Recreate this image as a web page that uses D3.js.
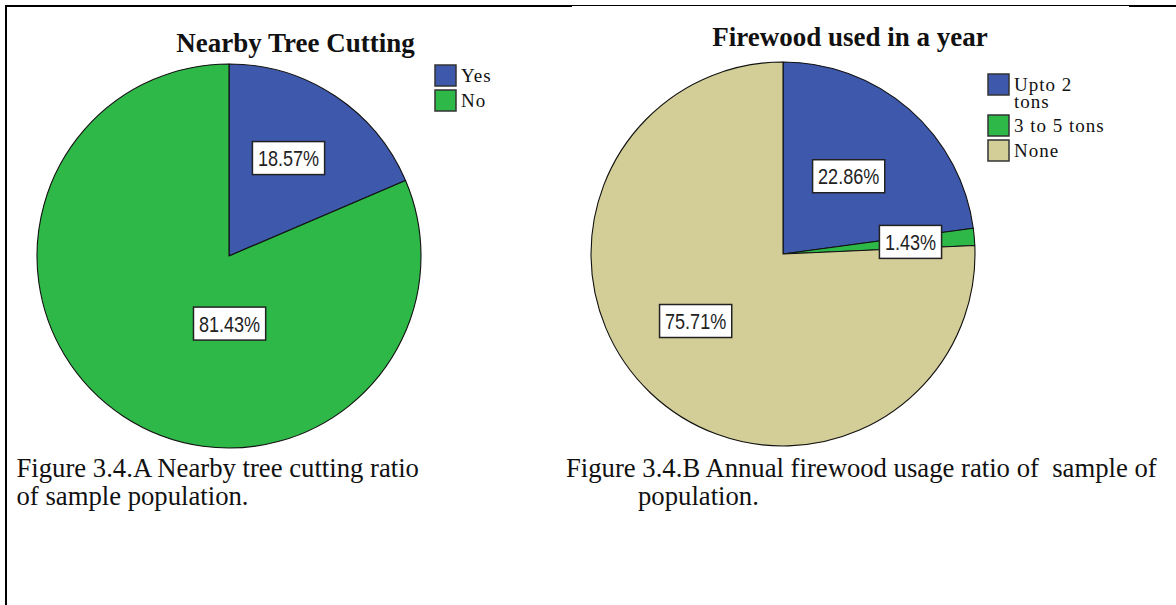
<!DOCTYPE html>
<html><head><meta charset="utf-8">
<script src="https://cdn.jsdelivr.net/npm/d3@7"></script>
<style>html,body{margin:0;padding:0;background:#fff;} svg{display:block;}</style>
</head><body>
<svg id="chart" width="1176" height="605"></svg>
<script>
// ---------- data ----------
const titleA = "Nearby Tree Cutting";
const categoriesA = ["Yes", "No"];
const legendLinesA = [["Yes"], ["No"]];
const valuesA = [18.57, 81.43];

const titleB = "Firewood used in a year";
const categoriesB = ["Upto 2 tons", "3 to 5 tons", "None"];
const legendLinesB = [["Upto 2", "tons"], ["3 to 5 tons"], ["None"]];
const valuesB = [22.86, 1.43, 75.71];

const captionA = ["Figure 3.4.A Nearby tree cutting ratio", "of sample population."];
const captionB = ["Figure 3.4.B Annual firewood usage ratio of  sample of", "population."];

// ---------- styles / layout ----------
const palette = ["#3E58AC", "#2EB848", "#D3CE97"];
const serif = "'Liberation Serif','Times New Roman',Times,serif";
const narrow = "'Liberation Sans Narrow','Arial Narrow','Liberation Sans',Arial,sans-serif";

const panels = [
  { title: titleA, cats: categoriesA, vals: valuesA, legend: legendLinesA,
    cx: 229, cy: 256, r: 192, titleX: 295.5, titleY: 52,
    legendX: 435, legendTops: [65, 90],
    labelPos: [[0.31, -0.51], [0.003, 0.352]] },
  { title: titleB, cats: categoriesB, vals: valuesB, legend: legendLinesB,
    cx: 783, cy: 254, r: 192, titleX: 850, titleY: 46,
    legendX: 988, legendTops: [74, 115, 140],
    labelPos: [[0.342, -0.405], [0.664, -0.063], [-0.455, 0.349]] }
];

const svg = d3.select("#chart");

// frame
const frame = svg.append("g").attr("stroke", "#000");
frame.append("line").attr("x1", 5).attr("x2", 572).attr("y1", 6).attr("y2", 6).attr("stroke-width", 2);
frame.append("line").attr("x1", 572).attr("x2", 1129).attr("y1", 5.5).attr("y2", 5.5).attr("stroke-width", 1);
frame.append("line").attr("x1", 1129).attr("x2", 1176).attr("y1", 6).attr("y2", 6).attr("stroke-width", 2);
frame.append("line").attr("x1", 6).attr("x2", 6).attr("y1", 5).attr("y2", 605).attr("stroke-width", 2);

const fmt = d3.format(".2f");
const labelFont = 22;
// narrow-sans advance widths (em) used to size the percentage labels
const narrowWidth = s => labelFont * Array.from(s).reduce((a, ch) =>
  a + (ch === "." ? 0.228 : ch === "%" ? 0.729 : 0.456), 0);

panels.forEach(p => {
  const g = svg.append("g");
  const pie = d3.pie().sort(null).value(d => d);
  const arcs = pie(p.vals);
  const arc = d3.arc().innerRadius(0).outerRadius(p.r);
  const color = d3.scaleOrdinal().domain(p.cats).range(palette);

  // title
  g.append("text")
    .attr("x", p.titleX).attr("y", p.titleY)
    .attr("text-anchor", "middle")
    .attr("font-family", serif).attr("font-weight", "bold").attr("font-size", 27)
    .attr("fill", "#111")
    .text(p.title);

  // slices
  const pg = g.append("g").attr("transform", `translate(${p.cx},${p.cy})`);
  pg.selectAll("path").data(arcs).join("path")
    .attr("d", arc)
    .attr("fill", (d, i) => color(p.cats[i]))
    .attr("stroke", "#111").attr("stroke-width", 1.1).attr("stroke-linejoin", "round");

  // labels
  arcs.forEach((d, i) => {
    const lx = p.cx + p.labelPos[i][0] * p.r;
    const ly = p.cy + p.labelPos[i][1] * p.r;
    const lg = g.append("g");
    const txt = fmt(p.vals[i]) + "%";
    const w = narrowWidth(txt);
    const bw = w + 11, bh = 33;
    lg.append("rect")
      .attr("x", lx - bw / 2).attr("y", ly - bh / 2)
      .attr("width", bw).attr("height", bh)
      .attr("fill", "#fff").attr("stroke", "#222").attr("stroke-width", 1.5);
    lg.append("text")
      .attr("x", lx).attr("y", ly + 8)
      .attr("text-anchor", "middle")
      .attr("font-family", narrow).attr("font-size", labelFont).attr("fill", "#222")
      .attr("textLength", w).attr("lengthAdjust", "spacingAndGlyphs")
      .text(txt);
  });

  // legend
  const lgd = g.append("g");
  p.cats.forEach((c, i) => {
    const top = p.legendTops[i];
    lgd.append("rect")
      .attr("x", p.legendX).attr("y", top).attr("width", 21).attr("height", 21)
      .attr("fill", color(c)).attr("stroke", "#333").attr("stroke-width", 1.5);
    const t = lgd.append("text")
      .attr("font-family", serif).attr("font-size", 19).attr("letter-spacing", 1)
      .attr("fill", "#111");
    p.legend[i].forEach((line, j) => {
      t.append("tspan")
        .attr("x", p.legendX + 26).attr("y", top + 17 + j * 17)
        .text(line);
    });
  });
});

// captions
const capStyle = s => s.attr("font-family", serif).attr("font-size", 26.7).attr("fill", "#111").style("white-space", "pre");
capStyle(svg.append("text").attr("x", 16.5).attr("y", 477).text(captionA[0]));
capStyle(svg.append("text").attr("x", 16.5).attr("y", 505).text(captionA[1]));
capStyle(svg.append("text").attr("x", 566).attr("y", 477).text(captionB[0]));
capStyle(svg.append("text").attr("x", 638).attr("y", 505).text(captionB[1]));
</script>
</body></html>
